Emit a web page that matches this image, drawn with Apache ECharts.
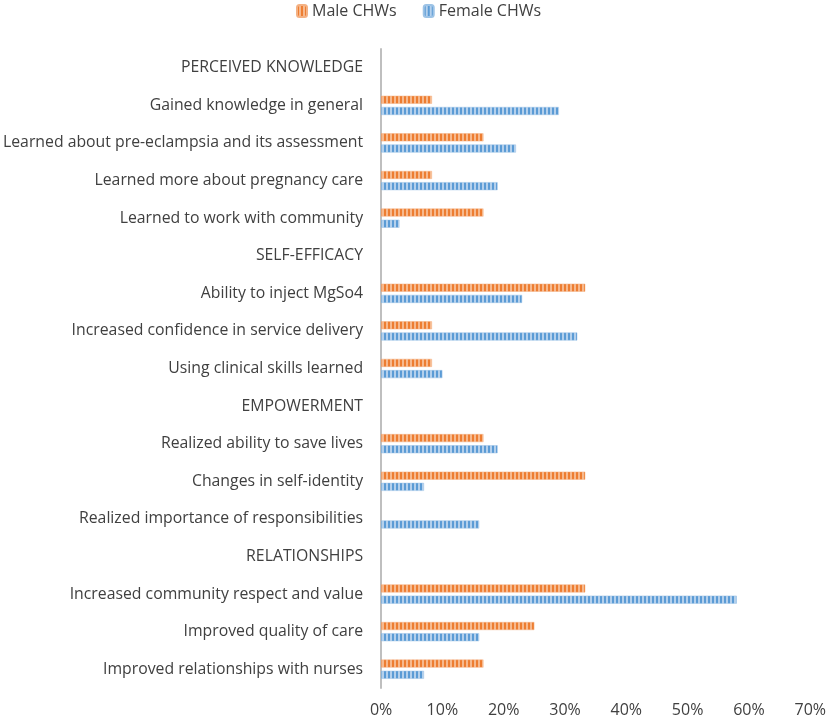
<!DOCTYPE html>
<html><head><meta charset="utf-8">
<script src="https://cdn.jsdelivr.net/npm/echarts@6/dist/echarts.min.js"></script>
<style>html,body{margin:0;padding:0;background:#fff}#c{width:829px;height:721px}</style>
</head><body><div id="c"></div>
<script>
const categories = [
  "PERCEIVED KNOWLEDGE",
  "Gained knowledge in general",
  "Learned about pre-eclampsia and its assessment",
  "Learned more about pregnancy care",
  "Learned to work with community",
  "SELF-EFFICACY",
  "Ability to inject MgSo4",
  "Increased confidence in service delivery",
  "Using clinical skills learned",
  "EMPOWERMENT",
  "Realized ability to save lives",
  "Changes in self-identity",
  "Realized importance of responsibilities",
  "RELATIONSHIPS",
  "Increased community respect and value",
  "Improved quality of care",
  "Improved relationships with nurses"
];
const maleValues =   [null, 8.3, 16.7, 8.3, 16.7, null, 33.3, 8.3, 8.3, null, 16.7, 33.3, null, null, 33.3, 25, 16.7];
const femaleValues = [null, 29, 22, 19, 3, null, 23, 32, 10, null, 19, 7, 16, null, 58, 16, 7];
const seriesNames = ["Male CHWs", "Female CHWs"];
const tickLabels = ["0%","10%","20%","30%","40%","50%","60%","70%"];

function stripe(dark, light) {
  const c = document.createElement('canvas');
  c.width = 4; c.height = 4;
  const g = c.getContext('2d');
  g.fillStyle = light; g.fillRect(0,0,4,4);
  g.fillStyle = dark; g.fillRect(0,0,2,4);
  return {image: c, repeat: 'repeat'};
}
const maleFill = stripe('#ED7D31', '#F6B98E');
const femaleFill = stripe('#5B9BD5', '#B4D0EC');

const chart = echarts.init(document.getElementById('c'), null, {renderer: 'canvas'});
const font = '"Open Sans", sans-serif';
chart.setOption({
  animation: false,
  textStyle: {fontFamily: font},
  legend: {
    top: 3, left: 296, padding: 0, itemWidth: 10, itemHeight: 12, itemGap: 26,
    textStyle: {fontSize: 16, color: '#404040', fontFamily: font},
    data: [
      {name: seriesNames[0], itemStyle: {color: maleFill}},
      {name: seriesNames[1], itemStyle: {color: femaleFill}}
    ]
  },
  grid: {left: 381, right: 17, top: 49, bottom: 33, containLabel: false},
  xAxis: {
    type: 'value', min: 0, max: 70, interval: 10,
    axisLine: {show: false}, axisTick: {show: false}, splitLine: {show: false},
    axisLabel: {fontSize: 16, color: '#404040', margin: 14, fontFamily: font,
      formatter: v => tickLabels[Math.round(v/10)]}
  },
  yAxis: {
    type: 'category', data: categories, inverse: true,
    axisLine: {show: true, lineStyle: {color: '#BFBFBF', width: 2}},
    axisTick: {show: false},
    axisLabel: {fontSize: 15.8, color: '#404040', margin: 18, fontFamily: font}
  },
  series: [
    {name: seriesNames[0], type: 'bar', data: maleValues, barWidth: 8, barGap: '40%',
     itemStyle: {color: maleFill, borderColor: '#F4B183', borderWidth: 0.5}},
    {name: seriesNames[1], type: 'bar', data: femaleValues, barWidth: 8, barGap: '40%',
     itemStyle: {color: femaleFill, borderColor: '#9DC3E6', borderWidth: 0.5}}
  ]
});
</script></body></html>
